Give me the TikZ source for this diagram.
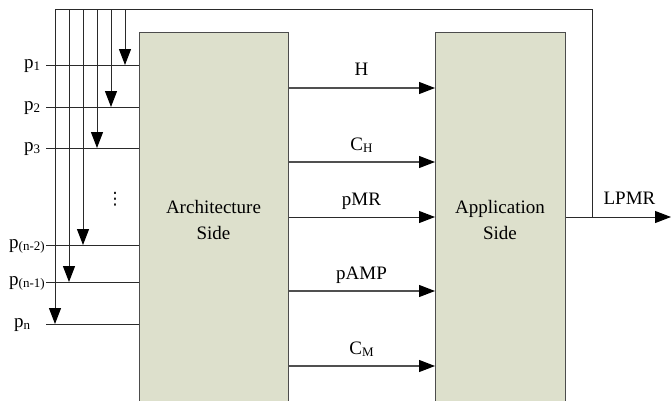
\documentclass[tikz,border=0pt]{standalone}
\usepackage{fontspec}
\setmainfont{Liberation Serif}
\newfontfamily\symf{DejaVu Sans}
\usetikzlibrary{arrows.meta}
\definecolor{boxfill}{HTML}{DDE0CC}
\definecolor{ln}{HTML}{2A2A2A}
\definecolor{gl}{HTML}{505050}
\newcommand\sbs[1]{\raisebox{-2.5pt}{\fontsize{13}{13}\selectfont #1}}
\begin{document}
\begin{tikzpicture}[x=1pt,y=-1pt, font=\fontsize{19}{26}\selectfont,
  wire/.style={draw=ln, line width=1pt},
  arr/.style={wire, -{Triangle[length=16pt,width=12pt,color=black]}},
  garr/.style={arr, draw=gl, line width=1.1pt},
  side/.style={draw=black!70, line width=1.2pt, fill=boxfill, minimum width=149pt,
    minimum height=372pt, anchor=north west, inner sep=0pt},
  lbl/.style={inner sep=0pt, anchor=base},
  plbl/.style={inner sep=0pt, anchor=base west}]
\useasboundingbox (0,0) rectangle (672,400);

% boxes
\node[side] (arch) at (139,32) {};
\node[side, minimum width=130pt] (app) at (435,32) {};
\node[align=center, inner sep=0pt] (archtxt) at (213.5,220) {Architecture\\Side};
\node[align=center, inner sep=0pt] (apptxt) at (500,220) {Application\\Side};

% outputs between boxes
\coordinate (yH) at (0,88);
\coordinate (yCH) at (0,162);
\coordinate (yMR) at (0,217);
\coordinate (yAMP) at (0,291);
\coordinate (yCM) at (0,366);
\draw[garr] (arch.east |- yH) -- (app.west |- yH);
\draw[garr] (arch.east |- yCH) -- (app.west |- yCH);
\draw[arr] (arch.east |- yMR) -- (app.west |- yMR);
\draw[garr] (arch.east |- yAMP) -- (app.west |- yAMP);
\draw[garr] (arch.east |- yCM) -- (app.west |- yCM);
\node[lbl] (lH) at (361.5,75) {H};
\node[lbl] (lCH) at (361.5,150) {C\sbs{H}};
\node[lbl] (lMR) at (361.5,205) {pMR};
\node[lbl] (lAMP) at (361.5,279) {pAMP};
\node[lbl] (lCM) at (361.5,354) {C\sbs{M}};

% LPMR output and feedback bus
\coordinate (lp) at (592,217);
\coordinate (lpend) at (671,217);
\coordinate (tr) at (592,9);
\coordinate (tl) at (55,9);
\draw[arr] (app.east |- lp) -- (lpend);
\draw[wire] (lp) -- (tr) -- (tl);
\node[lbl] (lLPMR) at (629.5,204) {LPMR};

% inputs
\coordinate (i1) at (46,65);
\coordinate (i2) at (46,107);
\coordinate (i3) at (46,148);
\coordinate (i4) at (46,245);
\coordinate (i5) at (46,282);
\coordinate (i6) at (46,324);
\foreach \k in {1,...,6} {\draw[wire] (i\k) -- (arch.west |- i\k);}
\node[plbl] (p1) at (24,68) {p\sbs{1}};
\node[plbl] (p2) at (24,110) {p\sbs{2}};
\node[plbl] (p3) at (24,151) {p\sbs{3}};
\node[plbl] (p4) at (9,248) {p\sbs{(n-2)}};
\node[plbl] (p5) at (9,285) {p\sbs{(n-1)}};
\node[plbl] (p6) at (14,327) {p\sbs{n}};

% feedback drops
\coordinate (t1) at (125,9); \coordinate (d1) at (125,65);
\coordinate (t2) at (111,9); \coordinate (d2) at (111,107);
\coordinate (t3) at (97,9);  \coordinate (d3) at (97,148);
\coordinate (t4) at (83,9);  \coordinate (d4) at (83,245);
\coordinate (t5) at (69,9);  \coordinate (d5) at (69,282);
\coordinate (t6) at (55,9);  \coordinate (d6) at (55,324);
\foreach \k in {1,...,6} {\draw[arr] (t\k) -- (d\k);}

% vertical ellipsis
\node[inner sep=0pt] (vd) at (115,199) {\symf\fontsize{17}{17}\selectfont ⋮};
\end{tikzpicture}
\end{document}
